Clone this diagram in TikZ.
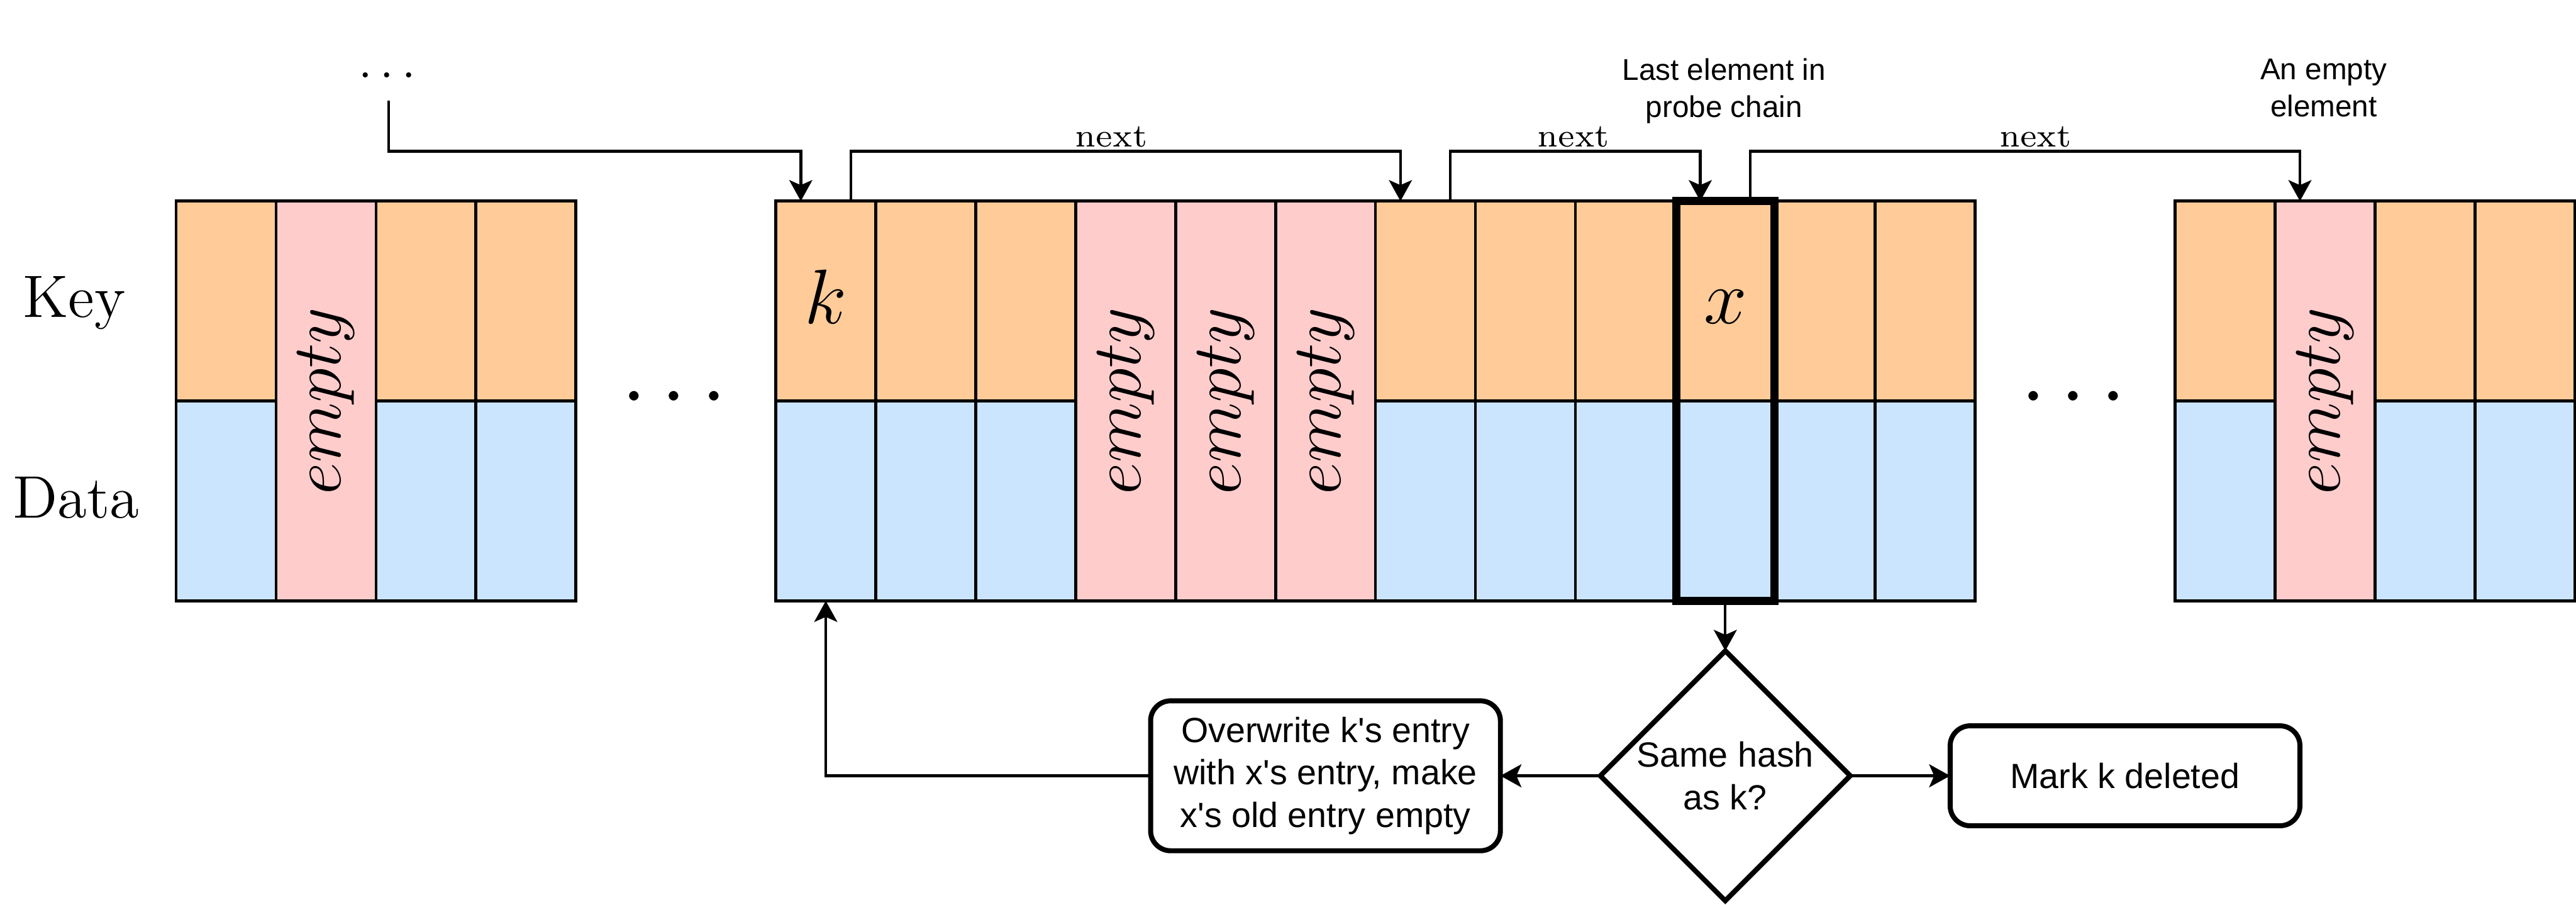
\documentclass[tikz,border=0pt]{standalone}
\usepackage{fix-cm}
\usepackage{fontspec}
\usepackage{graphicx}
\newfontfamily\hsans{Liberation Sans}
\usetikzlibrary{arrows.meta,shapes.geometric}
\definecolor{keyc}{HTML}{FFCC99}
\definecolor{datac}{HTML}{CCE5FF}
\definecolor{emptyc}{HTML}{FFCCCC}
\begin{document}
\begin{tikzpicture}[x=0.5pt,y=-0.5pt,
  cellbase/.style={draw,line width=0.6pt,inner sep=0pt,outer sep=0pt,minimum width=20pt},
  keycell/.style={cellbase,fill=keyc,minimum height=40pt},
  datacell/.style={cellbase,fill=datac,minimum height=40pt},
  emptycell/.style={cellbase,fill=emptyc,minimum height=80pt,font=\fontsize{14}{16}\selectfont},
  thickcol/.style={draw,line width=1.6pt,inner sep=0pt,outer sep=0pt,minimum width=19.6pt,minimum height=80pt},
  conn/.style={line width=0.55pt,-{Stealth[length=4.2pt,width=4.6pt,inset=1pt]}},
  procbox/.style={draw,line width=1pt,rounded corners=4pt,fill=white,inner sep=0pt,outer sep=0pt,align=center,font=\hsans\fontsize{7}{8.5}\selectfont},
  decision/.style={diamond,draw,line width=1pt,fill=white,inner sep=0pt,outer sep=0pt,aspect=1,minimum width=50pt,minimum height=50pt,align=center,font=\hsans\fontsize{7}{8.5}\selectfont},
  mathlbl/.style={inner sep=0pt,anchor=base,font=\fontsize{15.5}{18}\selectfont},
  nextlbl/.style={inner sep=0pt,anchor=base,font=\fontsize{6.6}{8}\selectfont},
  note/.style={inner sep=0pt,align=center,font=\hsans\fontsize{6}{7.5}\selectfont},
  rowlbl/.style={inner sep=0pt,anchor=base,font=\fontsize{12}{14}\selectfont},
  gapdots/.style={inner sep=0pt,anchor=base,font=\fontsize{18}{20}\selectfont}
]
\useasboundingbox (0,0) rectangle (1031,362);
\fill[white] (0,0) rectangle (1031,362);

% row labels
\node[rowlbl] (keylbl) at (29.7,127.1) {Key};
\node[rowlbl] (datalbl) at (30.4,207.3) {Data};

% left block
\foreach \i in {0,2,3} {
  \node[keycell] (lk\i) at (90.5+40*\i,120.5) {};
  \node[datacell] (ld\i) at (90.5+40*\i,200.5) {};
}
\node[emptycell] (le1) at (130.5,160.5) {\rotatebox{90}{$empty$}};

% middle block
\foreach \i in {0,1,2,6,7,8,9,10,11} {
  \node[keycell] (mk\i) at (330.5+40*\i,120.5) {};
  \node[datacell] (md\i) at (330.5+40*\i,200.5) {};
}
\foreach \i in {3,4,5} {
  \node[emptycell] (me\i) at (330.5+40*\i,160.5) {\rotatebox{90}{$empty$}};
}
\node[thickcol] (xcol) at (690.5,160.5) {};

% right block
\foreach \i in {0,2,3} {
  \node[keycell] (rk\i) at (890.5+40*\i,120.5) {};
  \node[datacell] (rd\i) at (890.5+40*\i,200.5) {};
}
\node[emptycell] (re1) at (930.5,160.5) {\rotatebox{90}{$empty$}};

% key labels
\node[mathlbl] (klbl) at (330.5,129.5) {$k$};
\node[mathlbl] (xlbl) at (690.5,129.5) {$x$};

% gaps
\node[gapdots] (gap1) at (269.8,167.5) {$\cdots$};
\node[gapdots] (gap2) at (829.8,167.5) {$\cdots$};
\node[inner sep=0pt,anchor=base,font=\fontsize{9.5}{11}\selectfont] (topdots) at (155,34.75) {$\cdots$};
\coordinate (topstart) at (155.5,40.4);

% notes
\node[note] (lastnote) at (690,36.4) {Last element in\\probe chain};
\node[note] (emptynote) at (930,35.2) {An empty\\element};

% next links
\draw[conn] (topstart) |- ([xshift=-5pt,yshift=10pt]mk0.north) -- ([xshift=-5pt]mk0.north);
\draw[conn] ([xshift=5pt]mk0.north) -- ++(0pt,10pt) -| ([xshift=-5pt]mk6.north);
\draw[conn] ([xshift=5pt]mk6.north) -- ++(0pt,10pt) -| ([xshift=-5pt]mk9.north);
\draw[conn] ([xshift=5pt]mk9.north) -- ++(0pt,10pt) -| ([xshift=-5pt]re1.north);
\node[nextlbl] (next1) at (444.8,58.8) {next};
\node[nextlbl] (next2) at (629.7,58.8) {next};
\node[nextlbl] (next3) at (814.6,58.8) {next};

% flowchart
\node[decision] (dia) at (690.5,310.5) {Same hash\\as k?};
\node[procbox,minimum width=70pt,minimum height=30pt] (over) at (530.5,310.5)
  {Overwrite k\textquotesingle s entry\\with x\textquotesingle s entry, make\\x\textquotesingle s old entry empty};
\node[procbox,minimum width=70pt,minimum height=20pt] (mark) at (850.5,310.5) {Mark k deleted};

\draw[conn] (xcol.south) -- (dia.north);
\draw[conn] (dia.west) -- (over.east);
\draw[conn] (dia.east) -- (mark.west);
\draw[conn] (over.west) -| (md0.south);
\end{tikzpicture}
\end{document}
